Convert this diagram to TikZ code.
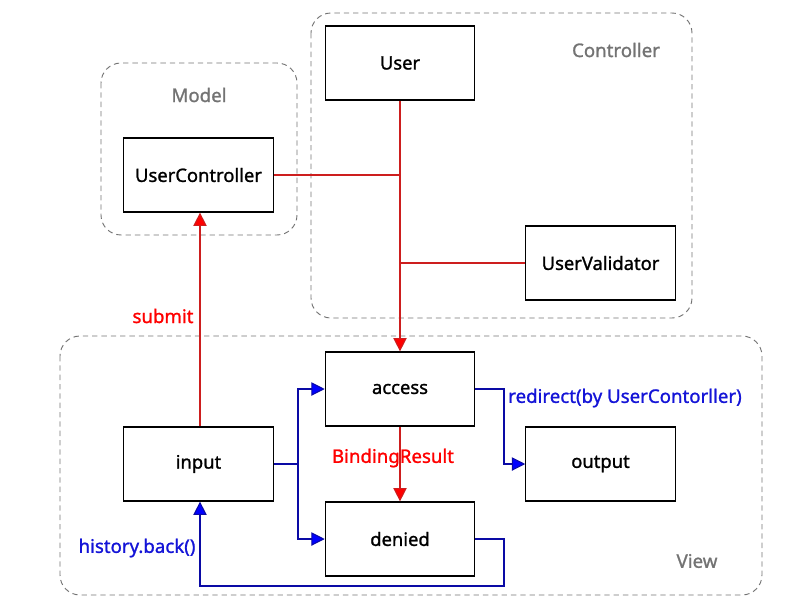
\documentclass[tikz,border=0pt]{standalone}
\usepackage{fontspec}
\setmainfont{Noto Sans}[FakeBold=1.2]
\usetikzlibrary{arrows.meta}
\definecolor{lred}{RGB}{205,30,30}
\definecolor{ablue}{RGB}{10,10,165}
\definecolor{tblue}{RGB}{20,20,215}
\definecolor{grp}{RGB}{115,115,115}
\tikzset{
  box/.style={draw=black,line width=0.9pt,minimum width=112pt,minimum height=55.5pt,inner sep=0pt,font=\fontsize{13.8}{16}\selectfont},
  grpbox/.style={draw=grp,line width=0.7pt,rounded corners=15pt,dash pattern=on 4pt off 3pt},
  grplabel/.style={text=grp,font=\fontsize{14}{16}\selectfont},
  redl/.style={draw=lred,line width=0.8pt},
  redarr/.style={redl,-{Triangle[length=10pt,width=10pt,fill=red]}},
  bluel/.style={draw=ablue,line width=0.8pt},
  bluearr/.style={bluel,-{Triangle[length=10pt,width=10pt,fill=blue]}},
  redtext/.style={text=red,font=\fontsize{14}{16}\selectfont},
  bluetext/.style={text=tblue,font=\fontsize{14}{16}\selectfont}
}
\begin{document}
\begin{tikzpicture}[x=0.75pt,y=-0.75pt]
\useasboundingbox (0,0) rectangle (800,600);
% groups
\draw[grpbox] (101,63) rectangle (297,235);
\draw[grpbox] (311,13) rectangle (692,318);
\draw[grpbox] (60,336) rectangle (762,595);
\node[grplabel] (lmodel) at (199,95) {Model};
\node[grplabel] (lctrl) at (616,50) {Controller};
\node[grplabel] (lview) at (697,561) {View};
% boxes
\node[box] (user) at (400,63) {User};
\node[box] (uc) at (198.5,175) {UserController};
\node[box] (uv) at (600.5,263) {UserValidator};
\node[box] (access) at (400,389) {access};
\node[box] (input) at (198.5,464) {input};
\node[box] (output) at (600.5,464) {output};
\node[box] (denied) at (400,539) {denied};
% coordinates
\coordinate (j1) at (400,175);
\coordinate (j2) at (400,263);
\coordinate (b1) at (298,464);
\coordinate (b2) at (298,389);
\coordinate (b3) at (298,539);
\coordinate (r1) at (504,389);
\coordinate (r2) at (504,464);
\coordinate (h1) at (504,539);
\coordinate (h2) at (504,586);
\coordinate (h3) at (200,586);
% red connectors
\draw[redarr] (user.south) -- (access.north);
\draw[redl] (uc.east) -- (j1);
\draw[redl] (uv.west) -- (j2);
\draw[redarr] (input.north -| 200,0) -- (uc.south -| 200,0);
\draw[redarr] (access.south) -- (denied.north);
\node[redtext] (lsubmit) at (163,316) {submit};
\node[redtext] (lbind) at (393,458) {BindingResult};
% blue connectors
\draw[bluel] (input.east) -- (b1);
\draw[bluearr] (b1) -- (b2) -- (access.west);
\draw[bluearr] (b1) -- (b3) -- (denied.west);
\draw[bluearr] (access.east) -- (r1) -- (r2) -- (output.west);
\draw[bluearr] (denied.east) -- (h1) -- (h2) -- (h3) -- (input.south -| 200,0);
\node[bluetext] (lredir) at (625,398) {redirect(by UserContorller)};
\node[bluetext] (lhist) at (137,548) {history.back()};
\end{tikzpicture}
\end{document}
